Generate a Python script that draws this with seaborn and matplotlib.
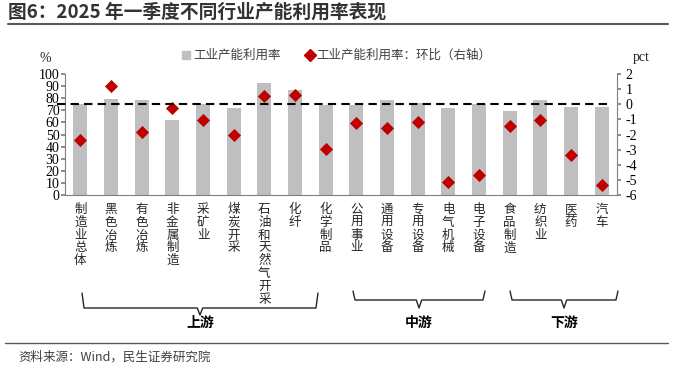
import numpy as np
import pandas as pd
import matplotlib
matplotlib.use("Agg")
import matplotlib.pyplot as plt
import seaborn as sns
from matplotlib.transforms import blended_transform_factory
from matplotlib.lines import Line2D

categories = ["制造业总体", "黑色冶炼", "有色冶炼", "非金属制造", "采矿业", "煤炭开采",
              "石油和天然气开采", "化纤", "化学制品", "公用事业", "通用设备", "专用设备",
              "电气机械", "电子设备", "食品制造", "纺织业", "医药", "汽车"]
utilization = [74.9, 79.6, 78.2, 61.7, 75.0, 72.2, 92.8, 86.8, 74.1,
               74.1, 78.5, 76.3, 72.2, 75.1, 69.7, 78.5, 73.0, 72.5]
qoq_change = [-2.35, 1.18, -1.86, -0.22, -1.03, -2.06, 0.53, 0.64, -2.94,
              -1.21, -1.58, -1.18, -5.13, -4.67, -1.45, -1.01, -3.38, -5.31]
groups = [("上游", 0, 8), ("中游", 9, 13), ("下游", 14, 17)]
left_ticks = list(range(0, 101, 10))
right_ticks = list(range(-6, 3, 1))

title = "图6：2025 年一季度不同行业产能利用率表现"
source = "资料来源：Wind，民生证券研究院"
legend_bar = "工业产能利用率"
legend_pt = "工业产能利用率：环比（右轴）"

sns.set_theme(style="white")
CJK = ["Noto Sans CJK SC", "DejaVu Sans"]
SERIF = ["Liberation Serif", "DejaVu Serif"]
plt.rcParams["font.family"] = CJK
plt.rcParams["axes.unicode_minus"] = False

W, H = 680, 375
fig = plt.figure(figsize=(W / 100, H / 100), dpi=100)
fig.patch.set_facecolor("white")

def fy(py):
    return 1 - py / H

def fx(px):
    return px / W

ax_l, ax_r, ax_t, ax_b = 65, 617, 74, 195
ax = fig.add_axes([fx(ax_l), fy(ax_b), fx(ax_r - ax_l), (ax_b - ax_t) / H])
ax2 = ax.twinx()

df = pd.DataFrame({"cat": categories, "util": utilization, "chg": qoq_change,
                   "pos": np.arange(len(categories))})

sns.barplot(data=df, x="cat", y="util", ax=ax, color="#BFBFBF", width=0.46,
            saturation=1, edgecolor="none")
sns.scatterplot(data=df, x="pos", y="chg", ax=ax2, marker="D", color="#C00000",
                s=45, edgecolor="#C00000", linewidth=0, zorder=5)

n = len(categories)
ax.set_xlim(-0.5, n - 0.5)
ax2.set_xlim(-0.5, n - 0.5)
ax.set_ylim(0, 100)
ax2.set_ylim(-6, 2)

ax.set_yticks(left_ticks)
ax.set_yticklabels([str(t) for t in left_ticks], fontfamily=SERIF, fontsize=10)
ax2.set_yticks(right_ticks)
ax2.set_yticklabels([str(t) for t in right_ticks], fontfamily=SERIF, fontsize=10)
ax.set_xticks(np.arange(-0.5, n, 1.0))
ax.set_xticklabels([])
ax.set_xlabel("")
ax.set_ylabel("")
ax2.set_ylabel("")
ax2.set_xlabel("")

for a in (ax, ax2):
    for s in a.spines.values():
        s.set_visible(False)
ax.spines["left"].set_visible(True)
ax.spines["bottom"].set_visible(True)
ax2.spines["right"].set_visible(True)
for sp in (ax.spines["left"], ax.spines["bottom"], ax2.spines["right"]):
    sp.set_color("#7F7F7F")
    sp.set_linewidth(0.8)
ax.tick_params(axis="y", direction="out", length=3, color="#7F7F7F", pad=1, labelcolor="black")
ax.tick_params(axis="x", direction="out", length=3, color="#7F7F7F")
ax2.tick_params(axis="y", direction="out", length=3, color="#7F7F7F", pad=3, labelcolor="black")
ax.tick_params(axis="y", left=True)
ax2.tick_params(axis="y", right=True)

# dashed zero line (right axis)
ax2.plot([-0.75, n - 0.72], [0, 0], ls=(0, (4, 2.5)), color="black", lw=1.5,
         clip_on=False, zorder=6)

# vertical category labels
tr = blended_transform_factory(ax.transData, fig.transFigure)
for i, c in enumerate(categories):
    ax.text(i, fy(203), "\n".join(c), transform=tr, ha="center", va="top",
            fontsize=9, linespacing=0.98, color="#262626")

# brackets
brk = {"上游": (82, 318, 293, 308, 315), "中游": (353, 485, 291, 300, 308),
       "下游": (510, 618, 291, 300, 308)}
for name, a, b in groups:
    x0, x1, ytop, yh, ytip = brk[name]
    xm = (x0 + x1) / 2
    fig.add_artist(Line2D([fx(x0), fx(x0) + 0.003, fx(xm) - 0.004, fx(xm), fx(xm) + 0.004,
                           fx(x1) - 0.003, fx(x1)],
                          [fy(ytop), fy(yh), fy(yh), fy(ytip), fy(yh), fy(yh), fy(ytop)],
                          color="#262626", lw=1.0))
    fig.text(fx(xm), fy(323), name, ha="center", va="center", fontsize=10,
             fontweight="bold", color="black")

# unit labels
fig.text(fx(45), fy(58), "%", ha="center", va="center", fontfamily=SERIF, fontsize=10)
fig.text(fx(641), fy(58), "pct", ha="center", va="center", fontfamily=SERIF, fontsize=10)

# legend
fig.add_artist(Line2D([fx(186)], [fy(55)], marker="s", color="#BFBFBF", ms=6, lw=0))
fig.text(fx(193), fy(55), legend_bar, ha="left", va="center", fontsize=9, color="#404040")
fig.add_artist(Line2D([fx(310)], [fy(55)], marker="D", color="#C00000", ms=6, lw=0))
fig.text(fx(316), fy(55), legend_pt, ha="left", va="center", fontsize=9, color="#404040")

# title
fig.text(fx(8), fy(12), title, ha="left", va="center", fontsize=13.5, fontweight="bold",
         color="#333333")
fig.add_artist(Line2D([fx(8), fx(668)], [fy(24), fy(24)], color="#595959", lw=1.5))

# source
fig.add_artist(Line2D([fx(5), fx(668)], [fy(343), fy(343)], color="#595959", lw=1.0))
fig.text(fx(18), fy(357), source, ha="left", va="center", fontsize=9, color="#404040")

fig.savefig("out.png", dpi=100, facecolor="white")
